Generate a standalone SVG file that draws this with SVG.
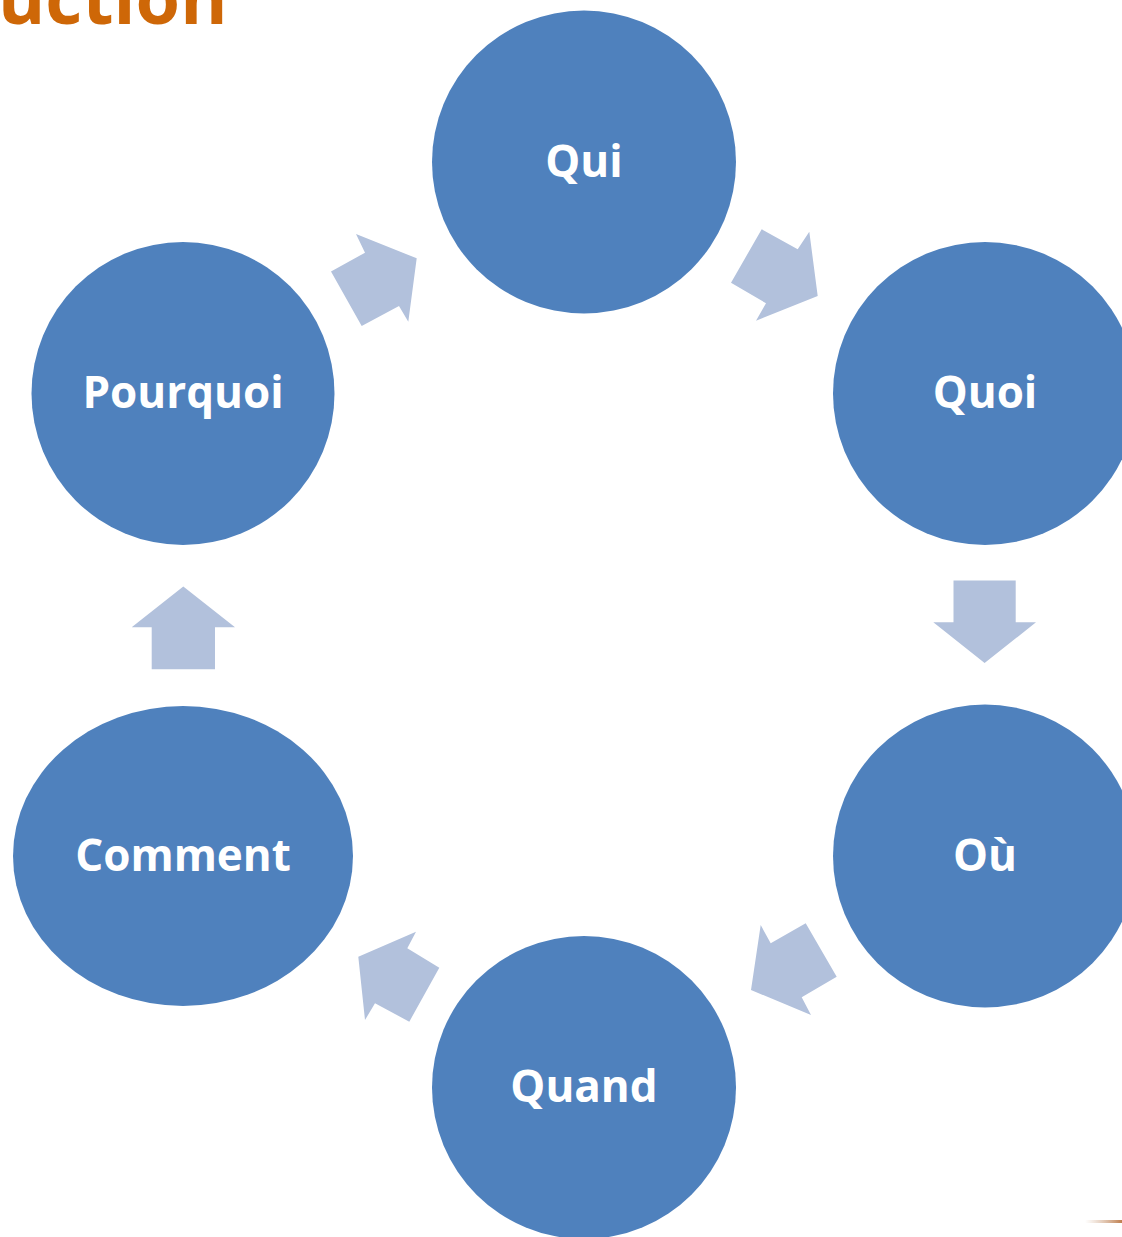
<svg xmlns="http://www.w3.org/2000/svg" width="1122" height="1237" viewBox="0 0 1122 1237">
<defs>
<style>
.node{fill:#4F81BD;}
.lbl{fill:#FFFFFF;font-family:"Open Sans","Liberation Sans",sans-serif;font-weight:700;font-size:44px;text-anchor:middle;}
.arr{fill:#B2C1DC;}
.title{fill:#CE6707;font-family:"Open Sans","Liberation Sans",sans-serif;font-weight:700;font-size:72px;}
</style>
<linearGradient id="dec" x1="0" y1="0" x2="1" y2="0">
<stop offset="0" stop-color="#C9A080" stop-opacity="0"/>
<stop offset="1" stop-color="#B8703A" stop-opacity="0.9"/>
</linearGradient>
</defs>
<rect width="1122" height="1237" fill="#FFFFFF"/>
<text class="title" x="-2" y="24">uction</text>
<rect x="1085" y="1220" width="37" height="3" fill="url(#dec)"/>
<g id="connectors">
<polygon class="arr" points="331,271.5 365,252.7 356,234 416.7,258.3 408.3,321.7 399,306 361.7,326"/>
<polygon class="arr" points="761.7,229.3 797.7,249.3 809.3,231.7 817.7,296 756,320.7 766,303.3 731,282.7"/>
<polygon class="arr" points="953.5,580.5 1015.7,580.5 1015.7,622.3 1036,622.3 984.6,663 933.3,622.3 953.5,622.3"/>
<polygon class="arr" points="760.7,925 770.7,943.3 805.7,923.3 836.7,976.7 801.7,997.3 811,1015 751,990"/>
<polygon class="arr" points="358.3,956.7 416,931.7 407.3,948.3 439.3,967.7 409.3,1021.7 375,1003.3 365,1020"/>
<polygon class="arr" points="183.3,586.5 235,627.3 215,627.3 215,669.3 151.7,669.3 151.7,627.3 131.7,627.3"/>
</g>
<g id="node-qui">
<ellipse class="node" cx="584" cy="162" rx="152" ry="151.5"/>
<text class="lbl" x="584" y="177">Qui</text>
</g>
<g id="node-quoi">
<ellipse class="node" cx="985" cy="393.5" rx="152" ry="151.5"/>
<text class="lbl" x="985" y="408">Quoi</text>
</g>
<g id="node-ou">
<ellipse class="node" cx="985" cy="856" rx="152" ry="151.5"/>
<text class="lbl" x="985" y="871">Où</text>
</g>
<g id="node-quand">
<ellipse class="node" cx="584" cy="1087.5" rx="152" ry="151.5"/>
<text class="lbl" x="584" y="1102">Quand</text>
</g>
<g id="node-comment">
<ellipse class="node" cx="183" cy="856" rx="170" ry="150"/>
<text class="lbl" x="183" y="871">Comment</text>
</g>
<g id="node-pourquoi">
<ellipse class="node" cx="183" cy="393.5" rx="151.5" ry="151.5"/>
<text class="lbl" x="183" y="408">Pourquoi</text>
</g>
</svg>
